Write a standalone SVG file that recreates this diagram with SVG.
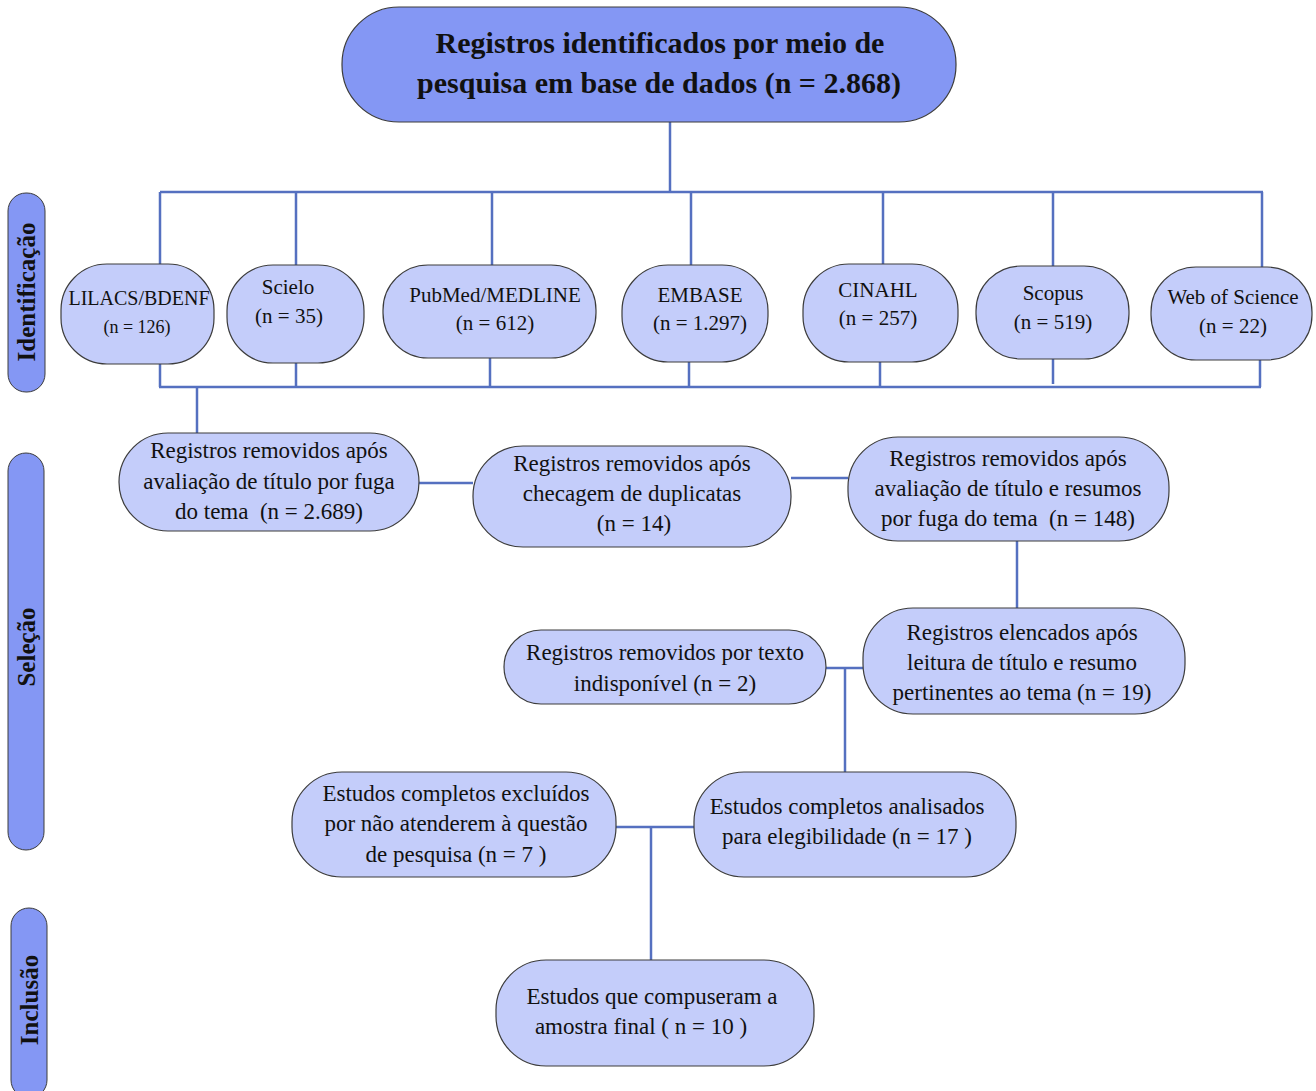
<svg xmlns="http://www.w3.org/2000/svg" width="1316" height="1091" viewBox="0 0 1316 1091">
<style>
.bg{fill:#ffffff}
.hdr{fill:#8497f4;stroke:#3c3c3c;stroke-width:1.2}
.side{fill:#8497f4;stroke:#3c3c3c;stroke-width:1}
.nd{fill:#c4cdfa;stroke:#3c3c3c;stroke-width:1.2}
.cn{stroke:#5570c0;stroke-width:2.5;fill:none}
.t{font-family:"Liberation Serif","Times New Roman",serif;font-size:23px;fill:#111;text-anchor:middle}
.s{font-family:"Liberation Serif","Times New Roman",serif;font-size:21px;fill:#111;text-anchor:middle}
.tb{font-family:"Liberation Serif","Times New Roman",serif;font-size:30px;font-weight:bold;fill:#111;text-anchor:middle}
.sl{font-family:"Liberation Serif","Times New Roman",serif;font-size:25px;font-weight:bold;fill:#111;text-anchor:middle}
</style>
<rect class="bg" x="0" y="0" width="1316" height="1091"/>

<g id="connectors">
<path class="cn" d="M670,122 V192"/>
<path class="cn" d="M160,192 H1263"/>
<path class="cn" d="M160,192 V264 M296,192 V265 M492,192 V265 M691,192 V265 M883,192 V264 M1053,192 V266 M1262,192 V267"/>
<path class="cn" d="M160,364 V387 M296,363 V387 M490,358 V387 M689,362 V387 M880,362 V387 M1053,359 V384 M1260,360 V387"/>
<path class="cn" d="M159,387 H1261"/>
<path class="cn" d="M197,387 V433"/>
<path class="cn" d="M419,483 H473"/>
<path class="cn" d="M791,478 H848"/>
<path class="cn" d="M1017,541 V608"/>
<path class="cn" d="M826,668 H863"/>
<path class="cn" d="M845,668 V772"/>
<path class="cn" d="M616,827 H694"/>
<path class="cn" d="M651,827 V960"/>
</g>

<g id="lbl-identificacao">
<rect class="side" x="8" y="193" width="37" height="199" rx="18"/>
<text class="sl" transform="translate(35,292) rotate(-90)">Identificação</text>
</g>
<g id="lbl-selecao">
<rect class="side" x="8" y="453" width="36" height="397" rx="18"/>
<text class="sl" transform="translate(35,647) rotate(-90)">Seleção</text>
</g>
<g id="lbl-inclusao">
<rect class="side" x="11" y="908" width="36" height="190" rx="18"/>
<text class="sl" transform="translate(38,1000) rotate(-90)">Inclusão</text>
</g>

<g id="n-total">
<rect class="hdr" x="342" y="7" width="614" height="115" rx="57"/>
<text class="tb" x="660" y="53">Registros identificados por meio de</text>
<text class="tb" x="659" y="93">pesquisa em base de dados (n = 2.868)</text>
</g>

<g id="n-lilacs">
<rect class="nd" x="61" y="264" width="153" height="100" rx="46"/>
<text class="s" x="139" y="305" style="font-size:20px">LILACS/BDENF</text>
<text class="s" x="137" y="333" style="font-size:18px">(n = 126)</text>
</g>
<g id="n-scielo">
<rect class="nd" x="227" y="265" width="137" height="98" rx="46"/>
<text class="s" x="288" y="294">Scielo</text>
<text class="s" x="289" y="323">(n = 35)</text>
</g>
<g id="n-pubmed">
<rect class="nd" x="383" y="265" width="213" height="93" rx="45"/>
<text class="s" x="495" y="302">PubMed/MEDLINE</text>
<text class="s" x="495" y="330">(n = 612)</text>
</g>
<g id="n-embase">
<rect class="nd" x="622" y="265" width="146" height="97" rx="46"/>
<text class="s" x="700" y="302">EMBASE</text>
<text class="s" x="700" y="330">(n = 1.297)</text>
</g>
<g id="n-cinahl">
<rect class="nd" x="803" y="264" width="155" height="98" rx="46"/>
<text class="s" x="878" y="297">CINAHL</text>
<text class="s" x="878" y="325">(n = 257)</text>
</g>
<g id="n-scopus">
<rect class="nd" x="976" y="266" width="153" height="93" rx="45"/>
<text class="s" x="1053" y="300">Scopus</text>
<text class="s" x="1053" y="329">(n = 519)</text>
</g>
<g id="n-wos">
<rect class="nd" x="1151" y="267" width="161" height="93" rx="45"/>
<text class="s" x="1233" y="304">Web of Science</text>
<text class="s" x="1233" y="333">(n = 22)</text>
</g>

<g id="n-titulo">
<rect class="nd" x="119" y="433" width="300" height="98" rx="49"/>
<text class="t" x="269" y="458">Registros removidos após</text>
<text class="t" x="269" y="489">avaliação de título por fuga</text>
<text class="t" x="269" y="519" xml:space="preserve">do tema  (n = 2.689)</text>
</g>
<g id="n-duplicatas">
<rect class="nd" x="473" y="446" width="318" height="101" rx="50"/>
<text class="t" x="632" y="471">Registros removidos após</text>
<text class="t" x="632" y="501">checagem de duplicatas</text>
<text class="t" x="634" y="531">(n = 14)</text>
</g>
<g id="n-resumos">
<rect class="nd" x="848" y="437" width="321" height="104" rx="50"/>
<text class="t" x="1008" y="466">Registros removidos após</text>
<text class="t" x="1008" y="496">avaliação de título e resumos</text>
<text class="t" x="1008" y="526" xml:space="preserve">por fuga do tema  (n = 148)</text>
</g>
<g id="n-elencados">
<rect class="nd" x="863" y="608" width="322" height="106" rx="50"/>
<text class="t" x="1022" y="640">Registros elencados após</text>
<text class="t" x="1022" y="670">leitura de título e resumo</text>
<text class="t" x="1022" y="700">pertinentes ao tema (n = 19)</text>
</g>
<g id="n-indisponivel">
<rect class="nd" x="504" y="630" width="322" height="74" rx="37"/>
<text class="t" x="665" y="660">Registros removidos por texto</text>
<text class="t" x="665" y="691">indisponível (n = 2)</text>
</g>
<g id="n-analisados">
<rect class="nd" x="694" y="772" width="322" height="105" rx="50"/>
<text class="t" x="847" y="814">Estudos completos analisados</text>
<text class="t" x="847" y="844">para elegibilidade (n = 17 )</text>
</g>
<g id="n-excluidos">
<rect class="nd" x="292" y="772" width="324" height="105" rx="50"/>
<text class="t" x="456" y="801">Estudos completos excluídos</text>
<text class="t" x="456" y="831">por não atenderem à questão</text>
<text class="t" x="456" y="862">de pesquisa (n = 7 )</text>
</g>
<g id="n-final">
<rect class="nd" x="496" y="960" width="318" height="106" rx="50"/>
<text class="t" x="652" y="1004">Estudos que compuseram a</text>
<text class="t" x="641" y="1034">amostra final ( n = 10 )</text>
</g>
</svg>
